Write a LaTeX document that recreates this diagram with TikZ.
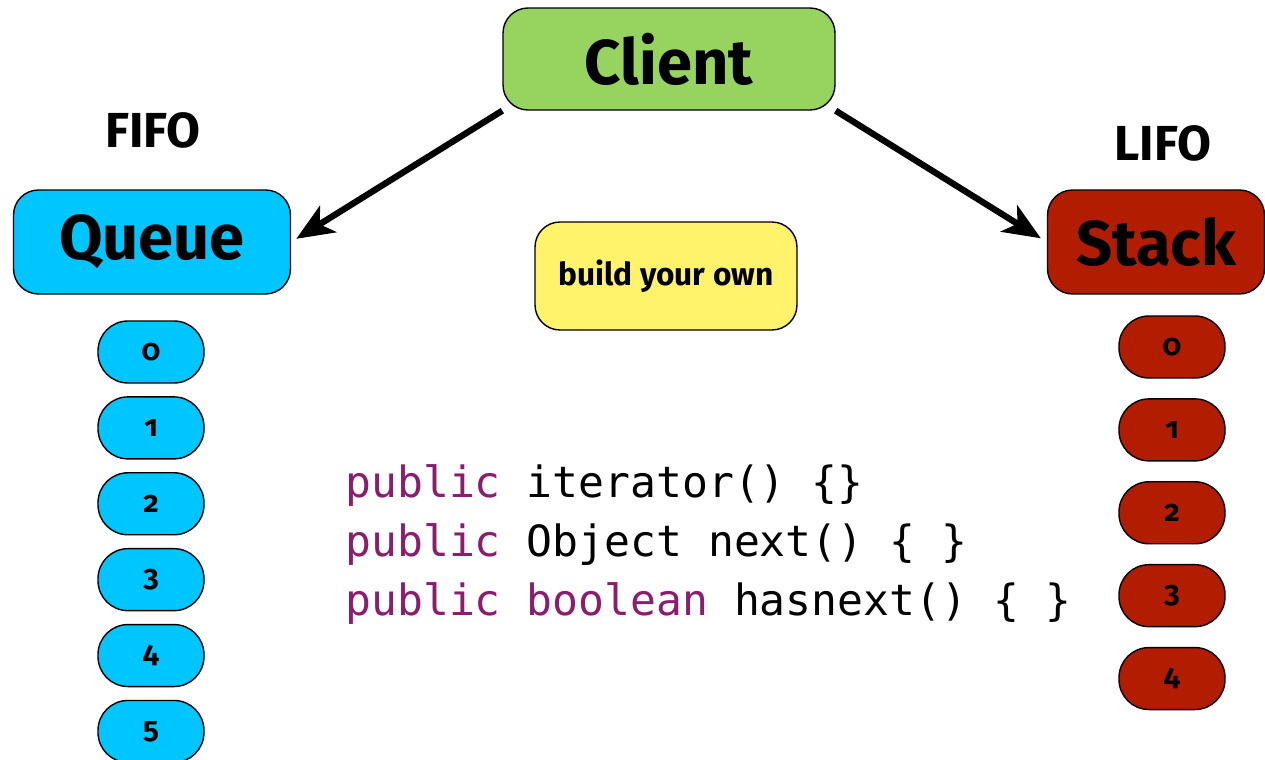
\documentclass[tikz,border=0pt]{standalone}
\usepackage{fontspec}
\setmainfont{Fira Sans}
\newfontfamily\digitfont{Fira Sans}[Numbers=OldStyle]
\newfontfamily\codefont{DejaVu Sans Mono}
\usetikzlibrary{arrows.meta, positioning}
\definecolor{clientgreen}{HTML}{96D35F}
\definecolor{queuecyan}{HTML}{00C6FF}
\definecolor{stackred}{HTML}{B21C00}
\definecolor{ownyellow}{HTML}{FFF36B}
\definecolor{keyword}{HTML}{8C1D6E}
\tikzset{
  block/.style={rectangle, rounded corners=0.5cm, draw=black, thick, align=center,
    font=\fontsize{36}{40}\selectfont\bfseries, inner sep=0pt},
  cell/.style={rectangle, rounded corners=0.6cm, draw=black, thick,
    minimum width=2.12cm, minimum height=1.24cm, inner sep=0pt,
    font=\digitfont\fontsize{17}{19}\selectfont\bfseries},
  qcell/.style={cell, fill=queuecyan},
  scell/.style={cell, fill=stackred},
  tag/.style={font=\fontsize{28}{32}\selectfont\bfseries},
  arrow/.style={-{Stealth[length=0.75cm, width=0.62cm, inset=0.2cm]}, line width=3.6pt},
  code/.style={anchor=base west, inner sep=0pt, font=\codefont\fontsize{24.5}{30}\selectfont},
}
\newcommand{\kw}[1]{\textcolor{keyword}{#1}}

\begin{document}
\begin{tikzpicture}[x=0.02cm, y=-0.02cm]
\useasboundingbox (0,0) rectangle (1265,760);
\node[block, fill=clientgreen, minimum width=6.64cm, minimum height=2.04cm] (client) at (669,59) {Client};
\node[block, fill=queuecyan, minimum width=5.54cm, minimum height=2.08cm] (queue) at (152,242) {Queue};
\node[block, fill=stackred, minimum width=4.34cm, minimum height=2.08cm] (stack) at (1156,242) {Stack};
\node[block, fill=ownyellow, minimum width=5.24cm, minimum height=2.16cm,
  font=\fontsize{18}{22}\selectfont\bfseries] (own) at (666,276) {build your own};
\node[tag] (fifo) at (153,130) {FIFO};
\node[tag] (lifo) at (1163,143) {LIFO};

% queue cells
\node[qcell] (q0) at (151,352) {0};
\foreach \i [count=\j from 0] in {1,...,5}
  \node[qcell, below=0.25cm of q\j] (q\i) {\i};

% stack cells
\node[scell] (s0) at (1172,347) {0};
\foreach \i [count=\j from 0] in {1,...,4}
  \node[scell, below=0.39cm of s\j] (s\i) {\i};

\draw[arrow, shorten >=0.12cm] (client.south west) -- (queue.east);
\draw[arrow, shorten >=0.14cm] (client.south east) -- (stack.west);

\node[code] (code1) at (345,497) {\kw{public} iterator() \{\}};
\node[code] (code2) at (345,556) {\kw{public} Object next() \{ \}};
\node[code] (code3) at (345,615) {\kw{public} \kw{boolean} hasnext() \{ \}};
\end{tikzpicture}
\end{document}
